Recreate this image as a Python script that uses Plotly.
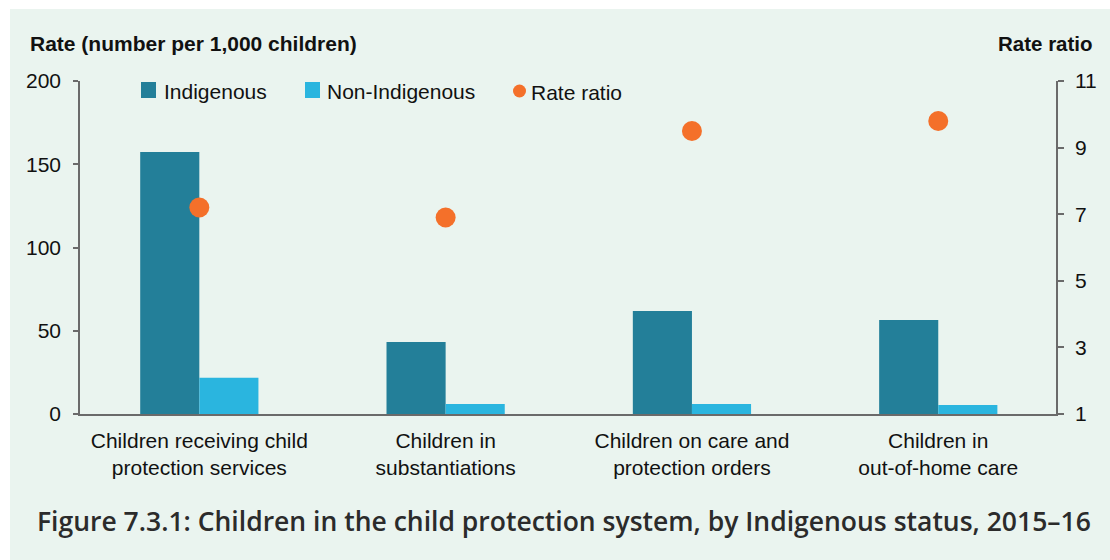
import plotly.graph_objects as go

categories = [
    "Children receiving child<br>protection services",
    "Children in<br>substantiations",
    "Children on care and<br>protection orders",
    "Children in<br>out-of-home care",
]
indigenous = [157.4, 43.3, 61.9, 56.4]
non_indigenous = [21.7, 6.0, 6.0, 5.4]
rate_ratio = [7.2, 6.9, 9.5, 9.8]

left_ticks = [0, 50, 100, 150, 200]
right_ticks = [1, 3, 5, 7, 9, 11]

C_IND = "#237F99"
C_NON = "#2AB5DF"
C_RR = "#F4702A"
MINT = "#EAF4EF"
AXIS = "#6a6a6a"
TXT = "#111111"
FONT = "Liberation Sans, Arial, sans-serif"

W_, H_ = 1110, 560
L, R, T, B = 80, 1056, 81, 414
PW, PH = R - L, B - T


def xp(px):
    return (px - L) / PW


def yp(py):
    return (B - py) / PH


fig = go.Figure()
fig.add_trace(go.Bar(x=categories, y=indigenous, name="Indigenous",
                     marker=dict(color=C_IND, line=dict(width=0)), showlegend=False))
fig.add_trace(go.Bar(x=categories, y=non_indigenous, name="Non-Indigenous",
                     marker=dict(color=C_NON, line=dict(width=0)), showlegend=False))
fig.add_trace(go.Scatter(x=categories, y=rate_ratio, name="Rate ratio", yaxis="y2",
                         mode="markers", marker=dict(color=C_RR, size=20),
                         showlegend=False))

shapes = [
    dict(type="rect", xref="paper", yref="paper", layer="below",
         x0=xp(10), x1=xp(1110), y0=yp(560), y1=yp(9),
         fillcolor=MINT, line=dict(width=0)),
    # legend symbols
    dict(type="rect", xref="paper", yref="paper",
         x0=xp(141), x1=xp(156), y0=yp(98), y1=yp(82),
         fillcolor=C_IND, line=dict(width=0)),
    dict(type="rect", xref="paper", yref="paper",
         x0=xp(305), x1=xp(320), y0=yp(98), y1=yp(82),
         fillcolor=C_NON, line=dict(width=0)),
    dict(type="circle", xref="paper", yref="paper",
         x0=xp(513), x1=xp(526), y0=yp(97.5), y1=yp(84.5),
         fillcolor=C_RR, line=dict(width=0)),
]

annotations = [
    dict(text="Indigenous", x=xp(162), y=yp(91), xref="paper", yref="paper",
         xanchor="left", yanchor="middle", showarrow=False,
         font=dict(family=FONT, size=21, color=TXT)),
    dict(text="Non-Indigenous", x=xp(325), y=yp(91), xref="paper", yref="paper",
         xanchor="left", yanchor="middle", showarrow=False,
         font=dict(family=FONT, size=21, color=TXT)),
    dict(text="Rate ratio", x=xp(529), y=yp(92), xref="paper", yref="paper",
         xanchor="left", yanchor="middle", showarrow=False,
         font=dict(family=FONT, size=21, color=TXT)),
    dict(text="<b>Rate (number per 1,000 children)</b>", x=xp(28), y=yp(44),
         xref="paper", yref="paper", xanchor="left", yanchor="middle",
         showarrow=False, font=dict(family=FONT, size=21, color=TXT)),
    dict(text="<b>Rate ratio</b>", x=xp(1095), y=yp(44),
         xref="paper", yref="paper", xanchor="right", yanchor="middle",
         showarrow=False, font=dict(family=FONT, size=20.5, color=TXT)),
    dict(text="Figure 7.3.1: Children in the child protection system, by Indigenous status, 2015–16",
         x=xp(563.5), y=yp(521), xref="paper", yref="paper",
         xanchor="center", yanchor="middle", showarrow=False,
         font=dict(family="Open Sans, sans-serif", size=26.5, color="#2b2b2b",
                   weight=600)),
]

fig.update_layout(
    width=W_, height=H_,
    margin=dict(l=L, r=W_ - R, t=T, b=H_ - B, pad=0),
    paper_bgcolor="white",
    plot_bgcolor="rgba(0,0,0,0)",
    barmode="group", bargap=0.52, bargroupgap=0,
    showlegend=False,
    font=dict(family=FONT, size=21, color=TXT),
    xaxis=dict(range=[-0.4844, 3.478], showline=True, linecolor=AXIS, linewidth=1.5,
               ticks="", showgrid=False, zeroline=False,
               tickfont=dict(family=FONT, size=21, color=TXT),
               ticklabelstandoff=7),
    yaxis=dict(range=[0, 200], tickvals=left_ticks, ticks="outside", ticklen=5,
               tickwidth=1.5, tickcolor=AXIS, showline=True, linecolor=AXIS,
               linewidth=1.5, showgrid=False, zeroline=False,
               tickfont=dict(family=FONT, size=21, color=TXT),
               ticklabelstandoff=8),
    yaxis2=dict(range=[1, 11], tickvals=right_ticks, overlaying="y", side="right",
                ticks="outside", ticklen=6, tickwidth=1.5, tickcolor=AXIS,
                showline=True, linecolor=AXIS, linewidth=1.5, showgrid=False,
                zeroline=False, tickfont=dict(family=FONT, size=21, color=TXT),
                ticklabelstandoff=7),
    shapes=shapes,
    annotations=annotations,
)

fig.write_html("out.html")
